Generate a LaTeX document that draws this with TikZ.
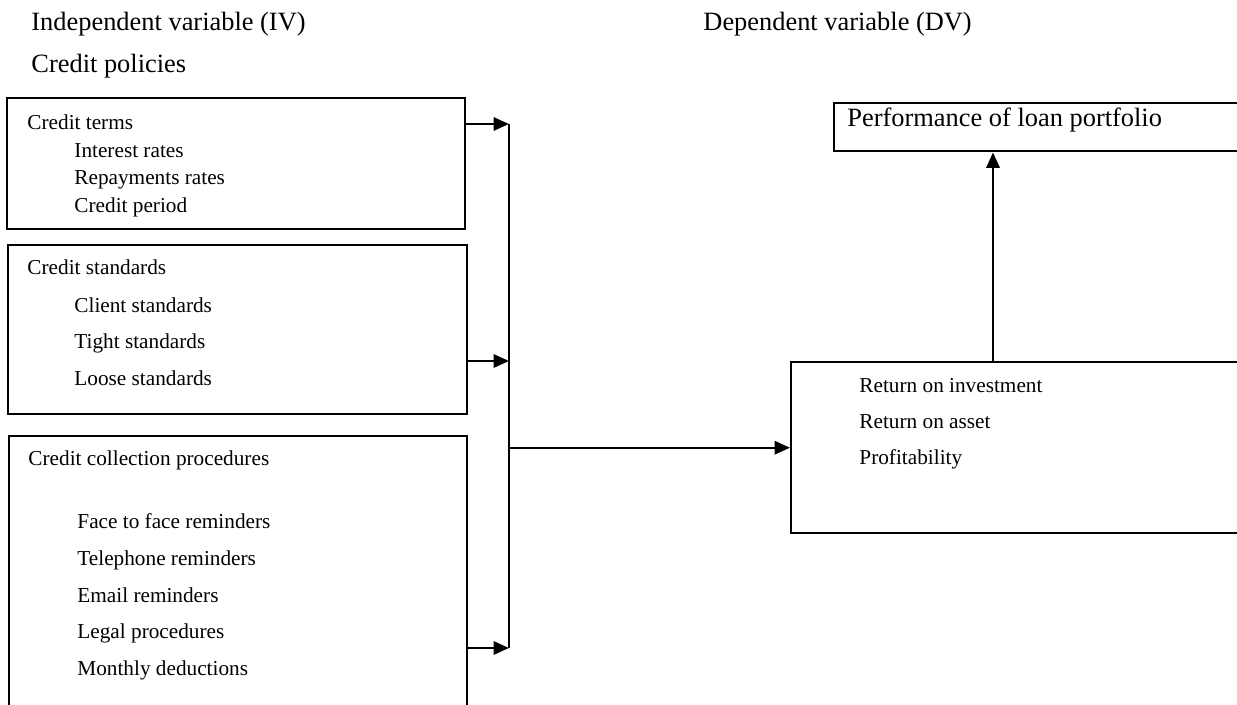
\documentclass[tikz,border=0pt]{standalone}
\usepackage{fontspec}
\setmainfont{Liberation Serif}
\usetikzlibrary{arrows.meta,positioning,calc}

\newcommand{\px}{0.4545pt}

\begin{document}
\begin{tikzpicture}[x=\px, y=-\px,
  box/.style={draw, line width=1.1pt, inner sep=0pt, anchor=north west},
  head/.style={anchor=base west, inner sep=0pt, font=\fontsize{12}{14}\selectfont},
  item/.style={anchor=base west, inner sep=0pt, font=\fontsize{9.66}{11}\selectfont},
  conn/.style={line width=1.1pt, -{Triangle[length=7pt,width=6pt]}},
  bus/.style={line width=1.1pt}]
  \useasboundingbox (0,0) rectangle (1237,704);
  \clip (0,0) rectangle (1237,704);

  % Headings
  \node[head] (iv) at (31,31) {Independent variable (IV)};
  \node[head] (dv) at (703,31) {Dependent variable (DV)};
  \node[head] (policies) at (31,73) {Credit policies};

  % Boxes
  \node[box, minimum width=458*\px, minimum height=131*\px] (terms) at (6,97) {};
  \node[box, minimum width=459*\px, minimum height=169*\px] (standards) at (7,244) {};
  \node[box, minimum width=458*\px, minimum height=280*\px] (collect) at (8,435) {};
  \node[box, minimum width=460*\px, minimum height=171*\px] (roi) at (790,361) {};
  \node[box, minimum width=420*\px, minimum height=48*\px] (perf) at (833,102) {};

  % Box texts
  \node[item] (termshead) at (27,129) {Credit terms};
  \foreach \txt/\y [count=\i] in {Interest rates/157, Repayments rates/184, Credit period/212}
    \node[item] (term\i) at (74,\y) {\txt};

  \node[item] (standhead) at (27,274) {Credit standards};
  \foreach \txt/\y [count=\i] in {Client standards/312, Tight standards/348, Loose standards/385}
    \node[item] (stand\i) at (74,\y) {\txt};

  \node[item] (collhead) at (28,465) {Credit collection procedures};
  \foreach \txt/\y [count=\i] in {Face to face reminders/528, Telephone reminders/565,
      Email reminders/602, Legal procedures/638, Monthly deductions/675}
    \node[item] (coll\i) at (77,\y) {\txt};

  \foreach \txt/\y [count=\i] in {Return on investment/392, Return on asset/428, Profitability/464}
    \node[item] (ret\i) at (859,\y) {\txt};

  \node[head] (perftext) at (847,126) {Performance of loan portfolio};

  % Connectors
  \coordinate (bustop) at (509,124);
  \coordinate (busmid) at (509,361);
  \coordinate (busbot) at (509,648);
  \coordinate (up) at (993,361);
  \draw[bus] (bustop) -- (busbot);
  \draw[conn] (terms.east |- bustop) -- (bustop);
  \draw[conn] (standards.east |- busmid) -- (busmid);
  \draw[conn] (collect.east |- busbot) -- (busbot);
  \draw[conn] (roi.west -| bustop) -- (roi.west);
  \draw[conn] (up) -- (up |- perf.south);
\end{tikzpicture}
\end{document}
